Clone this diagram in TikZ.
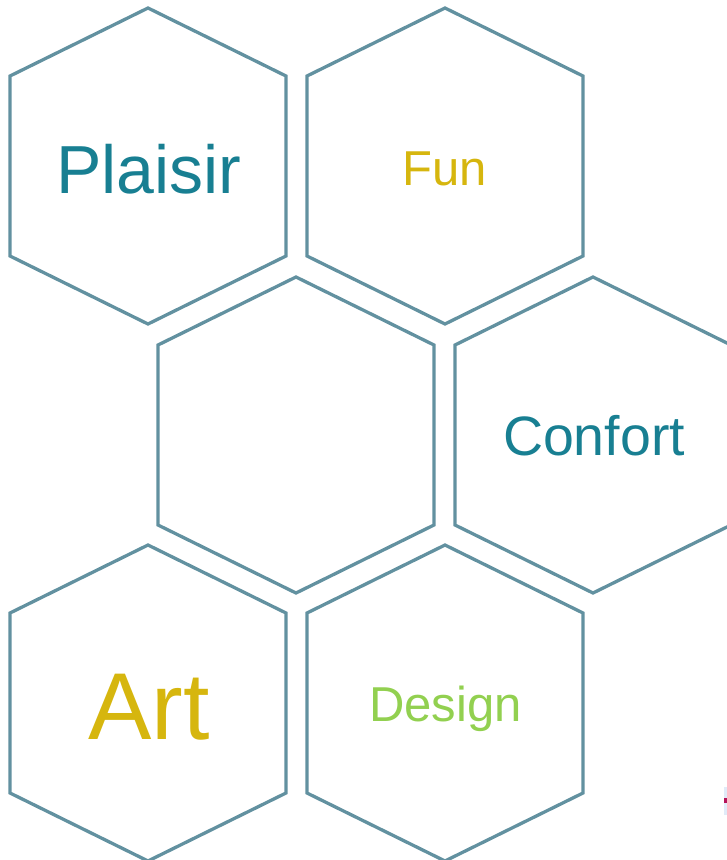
\documentclass[tikz,border=0pt]{standalone}
\usepackage{fontspec}
\setmainfont{Liberation Sans}
\definecolor{hexline}{RGB}{98,145,160}
\definecolor{tealtxt}{RGB}{24,127,146}
\definecolor{yellowtxt}{RGB}{214,182,14}
\definecolor{greentxt}{RGB}{146,208,80}
\definecolor{logomag}{RGB}{180,20,90}
\definecolor{logoblue}{RGB}{225,235,248}
\tikzset{
  hexstroke/.style={draw=hexline, line width=3.3pt, line join=miter},
  lbl/.style={anchor=base, inner sep=0pt, font=#1},
}
\newcommand{\hexdraw}[2]{%
  \draw[hexstroke] (#1,#2-158) -- (#1+138,#2-90) -- (#1+138,#2+90) -- (#1,#2+158) -- (#1-138,#2+90) -- (#1-138,#2-90) -- cycle;}
\begin{document}
\begin{tikzpicture}[x=1pt,y=-1pt]
\useasboundingbox (0,0) rectangle (727,860);
\begin{scope}
\clip (0,0) rectangle (727,860);
\hexdraw{148}{166}
\hexdraw{445}{166}
\hexdraw{296}{435}
\hexdraw{593}{435}
\hexdraw{148}{703}
\hexdraw{445}{703}
\fill[logoblue] (724,787) rectangle (727,815);
\fill[logomag] (723.5,798) rectangle (727,803);
\end{scope}
\node[lbl={\fontsize{68}{80}\selectfont}, text=tealtxt] (plaisir) at (149,193) {Plaisir};
\node[lbl={\fontsize{49}{58}\selectfont}, text=yellowtxt] (fun) at (445,185) {Fun};
\node[lbl={\fontsize{55.5}{66}\selectfont}, text=tealtxt] (confort) at (594,455) {Confort};
\node[lbl={\fontsize{95}{110}\selectfont}, text=yellowtxt] (art) at (149,739) {Art};
\node[lbl={\fontsize{49}{58}\selectfont}, text=greentxt] (design) at (445.5,721) {Design};
\end{tikzpicture}
\end{document}
